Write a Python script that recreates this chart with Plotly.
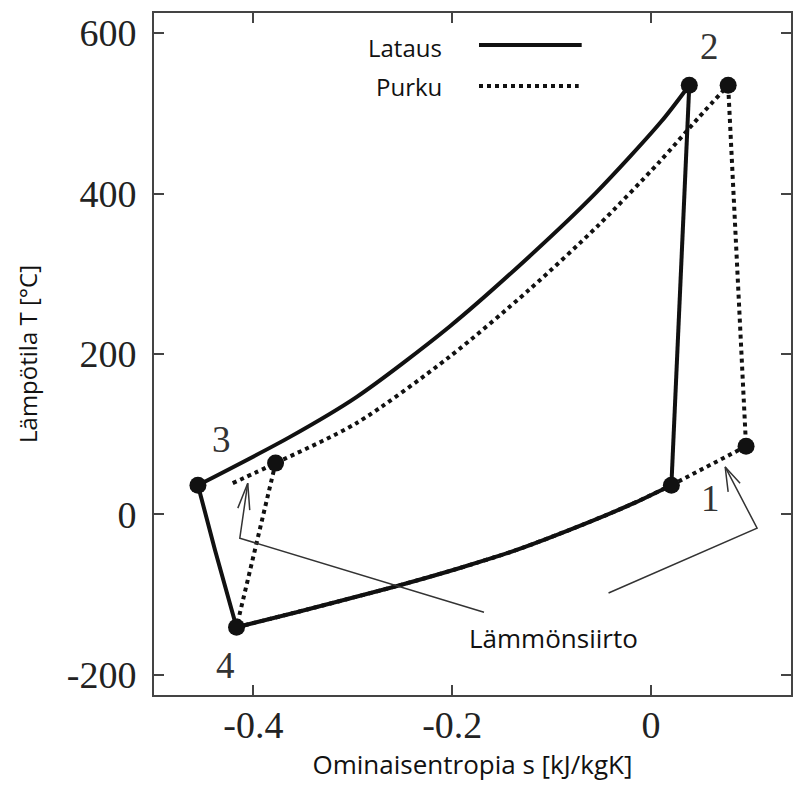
import plotly.graph_objects as go

# ---------------- data (entropy s [kJ/kgK], temperature T [°C]) ----------------
# Lataus (charging) cycle
lat_upper_s = [-0.4558, -0.3636, -0.2964, -0.2032, -0.1230, -0.0558, 0.0104, 0.0384]
lat_upper_T = [36.5, 96.4, 146.3, 233.7, 321.0, 400.5, 490.0, 535]
lower_s = [-0.4170, -0.3566, -0.2564, -0.1932, -0.1360, -0.0699, -0.0197, 0.0204]
lower_T = [-140.5, -121.8, -89.4, -67.0, -44.5, -13.3, 12.8, 36.5]
lat_left_s = [-0.4170, -0.4386, -0.4558]
lat_left_T = [-140.5, -44.5, 36.5]
lat_comp_s = [0.0204, 0.0384]
lat_comp_T = [36.5, 535]

# Purku (discharge) cycle
pur_upper_s = [-0.4208, -0.3777, -0.2964, -0.2032, -0.1230, -0.0528, 0.0073, 0.0474, 0.0775]
pur_upper_T = [39, 64, 113.8, 196.1, 279.7, 360.7, 438.0, 494.1, 535]
pur_right_s = [0.0204, 0.0955, 0.0775]
pur_right_T = [36.5, 85, 535]
pur_left_s = [-0.3777, -0.4170]
pur_left_T = [64, -140.5]

# state points
lat_pts_s = [0.0204, 0.0384, -0.4558, -0.4170]
lat_pts_T = [36.5, 535, 36.5, -140.5]
pur_pts_s = [0.0955, 0.0775, -0.3777]
pur_pts_T = [85, 535, 64]

# state labels
state_labels = ["1", "2", "3", "4"]
state_label_s = [0.0594, 0.0584, -0.4318, -0.4278]
state_label_T = [20, 583, 93, -188]

# "Lämmönsiirto" call-out lines (data coords)
callout_left_s = [-0.1681, -0.4137, -0.4057]
callout_left_T = [-121.8, -29.6, 39.0]
head_left_s = [-0.4157, -0.4057, -0.4037]
head_left_T = [7.9, 39.0, 5.4]
callout_right_s = [-0.0428, 0.1066, 0.0745]
callout_right_T = [-97.9, -17.1, 59.2]
head_right_s = [0.0775, 0.0745, 0.0895]
head_right_T = [28.1, 59.2, 39.0]

x_ticks = [-0.4, -0.2, 0]
x_ticktext = ["-0.4", "-0.2", "0"]
y_ticks = [-200, 0, 200, 400, 600]
y_ticktext = ["-200", "0", "200", "400", "600"]

fig = go.Figure()

solid = dict(color="#111", width=4)
dotted = dict(color="#111", width=4, dash="4px,4px")
sm = 0.8

# charging cycle (solid)
fig.add_trace(go.Scatter(x=lower_s, y=lower_T, mode="lines",
                         line=dict(shape="spline", smoothing=sm, **solid),
                         showlegend=False, name="Lataus"))
fig.add_trace(go.Scatter(x=lat_comp_s, y=lat_comp_T, mode="lines", line=solid, showlegend=False))
fig.add_trace(go.Scatter(x=lat_upper_s, y=lat_upper_T, mode="lines",
                         line=dict(shape="spline", smoothing=sm, **solid), showlegend=False))
fig.add_trace(go.Scatter(x=lat_left_s, y=lat_left_T, mode="lines",
                         line=dict(shape="spline", smoothing=sm, **solid), showlegend=False))

# discharging cycle (dotted)
fig.add_trace(go.Scatter(x=lower_s, y=lower_T, mode="lines",
                         line=dict(shape="spline", smoothing=sm, **dotted),
                         showlegend=False, name="Purku"))
fig.add_trace(go.Scatter(x=pur_right_s, y=pur_right_T, mode="lines", line=dotted, showlegend=False))
fig.add_trace(go.Scatter(x=pur_upper_s, y=pur_upper_T, mode="lines",
                         line=dict(shape="spline", smoothing=sm, **dotted), showlegend=False))
fig.add_trace(go.Scatter(x=pur_left_s, y=pur_left_T, mode="lines", line=dotted, showlegend=False))

for xs, ys in [(callout_left_s, callout_left_T), (head_left_s, head_left_T),
               (callout_right_s, callout_right_T), (head_right_s, head_right_T)]:
    fig.add_trace(go.Scatter(x=xs, y=ys, mode="lines",
                             line=dict(color="#333", width=1.5),
                             showlegend=False, hoverinfo="skip"))

fig.add_trace(go.Scatter(x=lat_pts_s, y=lat_pts_T, mode="markers",
                         marker=dict(color="#111", size=17), showlegend=False))
fig.add_trace(go.Scatter(x=pur_pts_s, y=pur_pts_T, mode="markers",
                         marker=dict(color="#111", size=17), showlegend=False))

serif = "Liberation Serif, Times New Roman, serif"
sans = "Open Sans, Noto Sans, sans-serif"

for lab, s, t in zip(state_labels, state_label_s, state_label_T):
    fig.add_annotation(x=s, y=t, text=lab, showarrow=False,
                       font=dict(family=serif, size=37, color="#333"))

fig.add_annotation(x=-0.098, y=-154, text="Lämmönsiirto", showarrow=False,
                   font=dict(family=sans, size=26, color="#111"))

# legend (text left, sample right)
fig.add_annotation(xref="paper", yref="paper", x=0.4554, y=0.9501, xanchor="right",
                   yanchor="middle", text="Lataus", showarrow=False,
                   font=dict(family=sans, size=24, color="#111"))
fig.add_annotation(xref="paper", yref="paper", x=0.4554, y=0.8915, xanchor="right",
                   yanchor="middle", text="Purku", showarrow=False,
                   font=dict(family=sans, size=24, color="#111"))
fig.add_shape(type="line", xref="paper", yref="paper", x0=0.5102, x1=0.6714,
              y0=0.9531, y1=0.9531, line=dict(color="#111", width=4))
fig.add_shape(type="line", xref="paper", yref="paper", x0=0.5102, x1=0.6667,
              y0=0.893, y1=0.893, line=dict(color="#111", width=4, dash="4px,4px"))

axis_common = dict(showgrid=False, zeroline=False, showline=True, linecolor="#444",
                   linewidth=2, mirror="ticks", ticks="inside", ticklen=10,
                   tickwidth=2, tickcolor="#444",
                   tickfont=dict(family=serif, size=38, color="#222"))

fig.update_layout(
    width=793, height=785,
    margin=dict(l=154, r=0, t=13, b=90),
    paper_bgcolor="white", plot_bgcolor="white",
    xaxis=dict(range=[-0.5, 0.1407], tickvals=x_ticks, ticktext=x_ticktext,
               ticklabelstandoff=-5,
               title=dict(text="Ominaisentropia s [kJ/kgK]",
                          font=dict(family=sans, size=26, color="#111"), standoff=9),
               **axis_common),
    yaxis=dict(range=[-225, 625], tickvals=y_ticks, ticktext=y_ticktext,
               ticklabelstandoff=8,
               title=dict(text="Lämpötila T [°C]",
                          font=dict(family=sans, size=24, color="#111"), standoff=22),
               **axis_common),
)

fig.write_html("out.html")
